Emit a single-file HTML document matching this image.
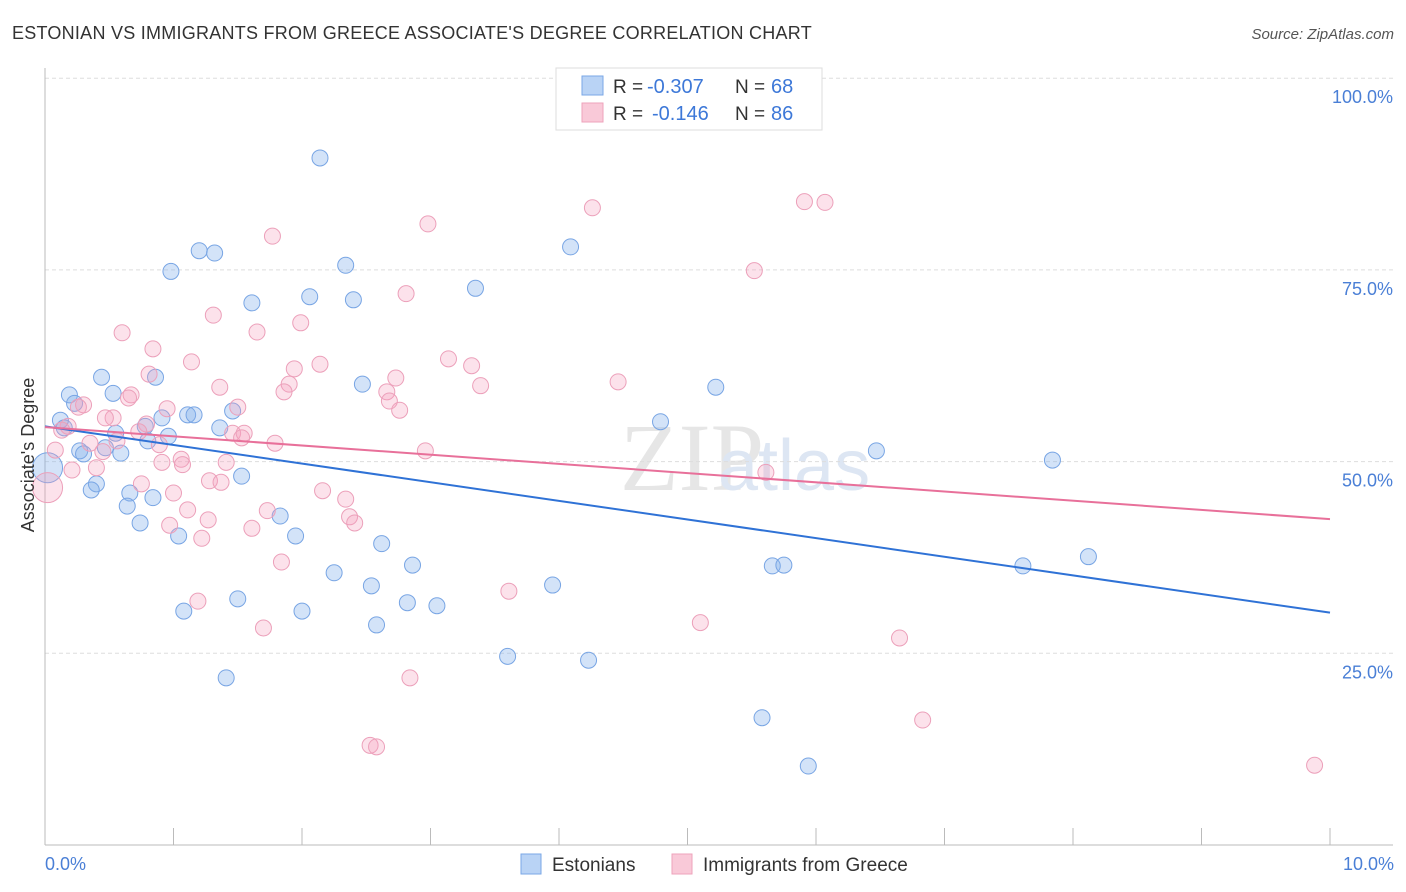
<!DOCTYPE html>
<html><head><meta charset="utf-8"><style>
body{margin:0;background:#fff;font-family:"Liberation Sans",sans-serif;}
#wrap{position:relative;width:1406px;height:892px;overflow:hidden;}
</style></head><body>
<div id="wrap">
<svg id="svg" width="1406" height="892" xmlns="http://www.w3.org/2000/svg" font-family="Liberation Sans, sans-serif">
<text x="12" y="39" font-size="18" fill="#333" letter-spacing="0.25">ESTONIAN VS IMMIGRANTS FROM GREECE ASSOCIATE'S DEGREE CORRELATION CHART</text>
<text x="1394" y="39" font-size="15" fill="#555" text-anchor="end" font-style="italic">Source: ZipAtlas.com</text>
<text x="620" y="490" font-size="96" fill="#e6e6e6" font-family="Liberation Serif, serif">ZIP</text>
<text x="718" y="490" font-size="72" fill="#dde6f3">atlas</text>
<g id="grid"></g>
<g id="axes"></g>
<g id="pts"></g>
<g id="trend"></g>
<text transform="translate(34,455) rotate(-90)" font-size="18" fill="#333" text-anchor="middle">Associate's Degree</text>
<text x="45" y="870" font-size="18" fill="#4a7fd6">0.0%</text>
<text x="1394" y="870" font-size="18" fill="#4a7fd6" text-anchor="end">10.0%</text>
<g>
<rect x="556" y="68" width="266" height="62" fill="#fff" stroke="#ddd"/>
<rect x="582" y="76" width="21" height="19" fill="#b9d3f5" stroke="#7aa7e6"/>
<rect x="582" y="103" width="21" height="19" fill="#f9c9d8" stroke="#eea3bb"/>
<text x="613" y="93" font-size="19" fill="#333">R =</text>
<text x="647" y="93" font-size="20" fill="#3d78d8">-0.307</text>
<text x="735" y="93" font-size="19" fill="#333">N =</text>
<text x="771" y="93" font-size="20" fill="#3d78d8">68</text>
<text x="613" y="120" font-size="19" fill="#333">R =</text>
<text x="652" y="120" font-size="20" fill="#3d78d8">-0.146</text>
<text x="735" y="120" font-size="19" fill="#333">N =</text>
<text x="771" y="120" font-size="20" fill="#3d78d8">86</text>
</g>
<g>
<rect x="521" y="854" width="20" height="20" fill="#b9d3f5" stroke="#7aa7e6"/>
<text x="552" y="871" font-size="19" fill="#333">Estonians</text>
<rect x="672" y="854" width="20" height="20" fill="#f9c9d8" stroke="#eea3bb"/>
<text x="703" y="871" font-size="19" fill="#333">Immigrants from Greece</text>
</g>
</svg>
</div>
<script>
const yTicks=[25,50,75,100];
const xTicks=[0,1,2,3,4,5,6,7,8,9,10];
const blueX=[2.14,4.09,1.20,1.32,0.98,2.34,3.35,2.06,2.40,1.61,0.44,0.86,2.47,5.22,0.19,0.53,0.23,0.12,0.91,1.11,1.16,1.46,0.78,0.96,1.36,0.55,0.15,4.79,0.27,0.30,0.47,0.59,0.80,6.47,7.84,1.53,0.40,0.36,0.66,0.84,0.64,0.74,1.04,1.83,1.95,2.62,8.12,2.86,2.25,5.66,5.75,7.61,3.95,2.54,2.82,3.05,1.50,1.08,2.00,2.58,3.60,4.23,1.41,5.58,5.94,0.02];
const blueY=[89.6,78.0,77.5,77.2,74.8,75.6,72.6,71.5,71.1,70.7,61.0,61.0,60.1,59.7,58.7,58.9,57.6,55.4,55.7,56.1,56.1,56.6,54.6,53.3,54.4,53.7,54.4,55.2,51.4,51.0,51.8,51.1,52.7,51.4,50.2,48.1,47.1,46.3,45.9,45.3,44.2,42.0,40.3,42.9,40.3,39.3,37.6,36.5,35.5,36.4,36.5,36.4,33.9,33.8,31.6,31.2,32.1,30.5,30.5,28.7,24.6,24.1,21.8,16.6,10.3,49.2];
const pinkX=[5.91,6.07,4.26,2.98,1.77,5.52,2.81,1.31,1.99,0.60,1.65,0.84,1.14,2.14,1.94,3.14,3.32,0.81,2.73,1.36,1.90,3.39,4.46,1.86,2.66,0.67,2.68,0.65,2.76,0.30,0.26,1.50,0.95,0.53,0.47,0.79,0.18,0.13,0.73,1.46,1.55,1.53,1.79,0.35,0.56,0.89,0.45,2.96,1.06,0.91,1.41,1.07,0.40,0.21,5.61,1.28,1.37,0.75,1.00,2.16,2.34,1.11,1.73,2.37,2.41,1.27,0.97,1.61,1.22,1.84,3.61,1.19,5.10,1.70,6.65,2.84,6.83,2.53,2.58,9.88,0.02,0.08];
const pinkY=[83.9,83.8,83.1,81.0,79.4,74.9,71.9,69.1,68.1,66.8,66.9,64.7,63.0,62.7,62.1,63.4,62.5,61.4,60.9,59.7,60.1,59.9,60.4,59.1,59.1,58.7,57.9,58.3,56.7,57.4,57.1,57.1,56.9,55.7,55.7,54.9,54.6,54.1,53.9,53.7,53.7,53.1,52.4,52.4,52.7,52.2,51.3,51.4,50.3,49.9,49.9,49.6,49.2,48.9,48.6,47.5,47.3,47.1,45.9,46.2,45.1,43.7,43.6,42.8,42.0,42.4,41.7,41.3,40.0,36.9,33.1,31.8,29.0,28.3,27.0,21.8,16.3,13.0,12.8,10.4,46.6,51.5];
const blueTrend=[54.6,30.3];
const pinkTrend=[54.5,42.5];
const NS="http://www.w3.org/2000/svg";
const sx=v=>45+v*128.5, sy=v=>845-v*7.668;
function mk(t,a,p){const e=document.createElementNS(NS,t);for(const k in a)e.setAttribute(k,a[k]);document.getElementById(p).appendChild(e);return e;}
yTicks.forEach(t=>{
 const l=mk('line',{x1:45,x2:1393,y1:sy(t),y2:sy(t),stroke:'#ddd','stroke-dasharray':'4,3'},'grid');
 
 
 const tx=mk('text',{x:1393,y:sy(t)+25,'font-size':18,fill:'#4a7fd6','text-anchor':'end'},'grid');
 tx.textContent=t.toFixed(1)+'%';
 
 
});
const ax=mk('line',{x1:45,x2:1393,y1:845,y2:845,stroke:'#bbb'},'axes');


const ay=mk('line',{x1:45,x2:45,y1:68,y2:845,stroke:'#bbb'},'axes');


xTicks.forEach(t=>{
 const l=mk('line',{x1:sx(t),x2:sx(t),y1:828,y2:845,stroke:'#bbb'},'axes');
 
 
});
function pts(X,Y,fill,stroke,name){
 X.forEach((x,i)=>{
  const big=(x<0.05);
  const c=mk('circle',{cx:sx(x),cy:sy(Y[i]),r:big?15:8,fill:fill,stroke:stroke,'stroke-width':1},'pts');
  
  
 });
}
pts(blueX,blueY,'rgba(130,175,235,0.35)','#78a5e4','point-estonians');
pts(pinkX,pinkY,'rgba(245,160,190,0.3)','#eca0ba','point-greece');
const bl=mk('line',{x1:sx(0),y1:sy(blueTrend[0]),x2:sx(10),y2:sy(blueTrend[1]),stroke:'#2f72d6','stroke-width':2},'trend');


const pl=mk('line',{x1:sx(0),y1:sy(pinkTrend[0]),x2:sx(10),y2:sy(pinkTrend[1]),stroke:'#e8709a','stroke-width':2},'trend');


</script>
</body></html>
